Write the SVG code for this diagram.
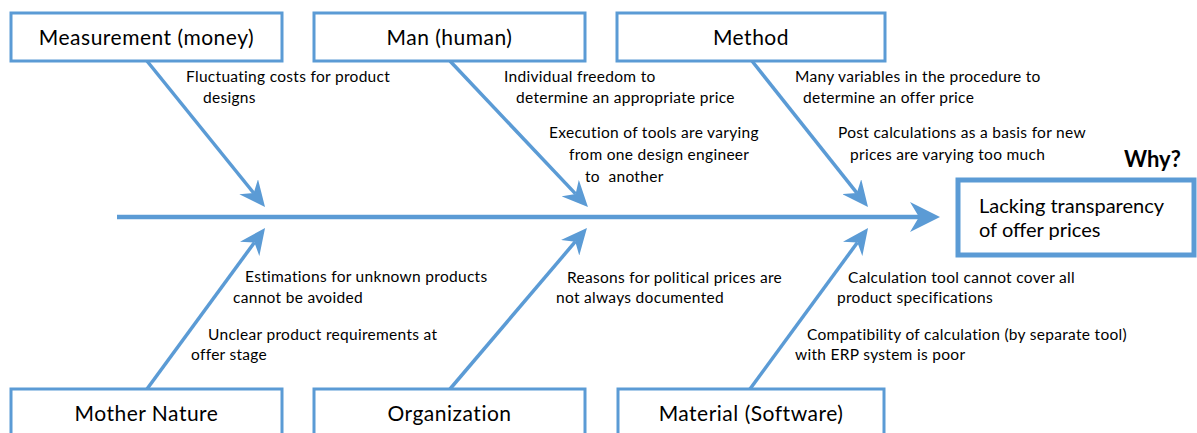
<svg xmlns="http://www.w3.org/2000/svg" width="1197" height="433" viewBox="0 0 1197 433">
<style>
.box{fill:#ffffff;stroke:#5B9BD5;stroke-width:3}
.effect{fill:#ffffff;stroke:#5B9BD5;stroke-width:5}
.lbl{font-family:Lato,"Liberation Sans",sans-serif;font-size:21px;letter-spacing:0.5px;fill:#000000;text-anchor:middle}
.eff{font-family:Lato,"Liberation Sans",sans-serif;font-size:20px;fill:#000000}
.sm{font-family:Lato,"Liberation Sans",sans-serif;font-size:15.5px;letter-spacing:0.3px;fill:#000000}
.why{font-family:Lato,"Liberation Sans",sans-serif;font-size:22px;font-weight:bold;fill:#000000}
.bone{stroke:#5B9BD5;stroke-width:3.5;fill:none;marker-end:url(#ah)}
.spine{stroke:#5B9BD5;stroke-width:4.5;fill:none;marker-end:url(#ahs)}
</style>
<defs>
<marker id="ah" viewBox="0 -12 26 24" markerUnits="userSpaceOnUse" markerWidth="26" markerHeight="24" refX="8" refY="0" orient="auto">
<path d="M26,0 L0,-12 L8,0 L0,12 Z" fill="#5B9BD5"/>
</marker>
<marker id="ahs" viewBox="0 -15 30 30" markerUnits="userSpaceOnUse" markerWidth="30" markerHeight="30" refX="9" refY="0" orient="auto">
<path d="M30,0 L0,-15 L9,0 L0,15 Z" fill="#5B9BD5"/>
</marker>
</defs>
<rect width="1197" height="433" fill="#ffffff"/>
<g id="connectors">
<line class="spine" x1="117" y1="217" x2="919" y2="217"/>
<line class="bone" x1="147" y1="61" x2="253.7" y2="193"/>
<line class="bone" x1="450" y1="61" x2="575.6" y2="193.9"/>
<line class="bone" x1="752" y1="61" x2="856.8" y2="192.9"/>
<line class="bone" x1="147" y1="389" x2="254.4" y2="242.5"/>
<line class="bone" x1="450" y1="389" x2="575.3" y2="241.7"/>
<line class="bone" x1="750" y1="389" x2="857.4" y2="242.5"/>
</g>
<g id="measurement">
<rect class="box" x="11" y="13" width="271" height="48"/>
<text class="lbl" x="146.5" y="45">Measurement (money)</text>
</g>
<g id="man">
<rect class="box" x="314" y="13" width="271" height="48"/>
<text class="lbl" x="449.5" y="45">Man (human)</text>
</g>
<g id="method">
<rect class="box" x="617" y="13" width="268" height="48"/>
<text class="lbl" x="751" y="45">Method</text>
</g>
<g id="mother-nature">
<rect class="box" x="11" y="389" width="271" height="60"/>
<text class="lbl" x="146.5" y="421">Mother Nature</text>
</g>
<g id="organization">
<rect class="box" x="314" y="389" width="271" height="60"/>
<text class="lbl" x="449.5" y="421">Organization</text>
</g>
<g id="material">
<rect class="box" x="618" y="389" width="266" height="60"/>
<text class="lbl" x="751" y="421">Material (Software)</text>
</g>
<g id="effect">
<rect class="effect" x="958" y="180" width="236" height="75"/>
<text class="eff" x="979" y="213">Lacking transparency</text>
<text class="eff" x="979" y="237">of offer prices</text>
</g>
<text class="why" x="1124" y="167">Why?</text>
<g id="causes">
<text class="sm" x="186" y="82">Fluctuating costs for product</text>
<text class="sm" x="203" y="103">designs</text>
<text class="sm" x="504" y="82">Individual freedom to</text>
<text class="sm" x="516" y="103">determine an appropriate price</text>
<text class="sm" x="549" y="138">Execution of tools are varying</text>
<text class="sm" x="569" y="160">from one design engineer</text>
<text class="sm" x="585" y="182" xml:space="preserve">to  another</text>
<text class="sm" x="795" y="82">Many variables in the procedure to</text>
<text class="sm" x="803" y="103">determine an offer price</text>
<text class="sm" x="838" y="138">Post calculations as a basis for new</text>
<text class="sm" x="850" y="160">prices are varying too much</text>
<text class="sm" x="245" y="282">Estimations for unknown products</text>
<text class="sm" x="233" y="303">cannot be avoided</text>
<text class="sm" x="208" y="340">Unclear product requirements at</text>
<text class="sm" x="191" y="360">offer stage</text>
<text class="sm" x="567" y="283">Reasons for political prices are</text>
<text class="sm" x="556" y="303">not always documented</text>
<text class="sm" x="848" y="283">Calculation tool cannot cover all</text>
<text class="sm" x="837" y="303">product specifications</text>
<text class="sm" x="807" y="340">Compatibility of calculation (by separate tool)</text>
<text class="sm" x="795" y="360">with ERP system is poor</text>
</g>
</svg>
